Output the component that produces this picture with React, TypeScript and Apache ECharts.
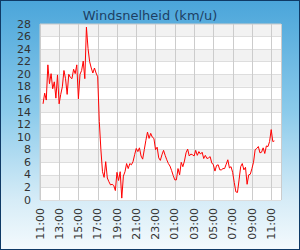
import React, { useEffect, useRef } from "react";
import * as echarts from "echarts";

const TITLE = "Windsnelheid (km/u)";
const START_HOUR = 11; // x axis origin (11:00)
const FIRST_SAMPLE_MIN = 19; // first measurement at 11:19
const STEP_MIN = 10; // one measurement every 10 minutes
const X_MAX_MIN = 1500; // axis runs to 12:00 next day
const X_TICK_MIN = 120; // label every 2 hours
const Y_MAX = 28;
const Y_STEP = 2;

// wind speed (km/u), one value per 10 minutes
const windSpeed: number[] = [
  15.3, 17.0, 15.9, 21.5, 18.5, 20.1, 17.7, 18.8, 16.2, 19.9,
  15.3, 16.8, 18.0, 20.6, 19.3, 16.8, 20.0, 19.5, 19.3, 20.8,
  20.1, 21.5, 16.1, 20.0, 20.6, 22.1, 19.3, 27.5, 24.1, 22.0,
  21.0, 20.2, 21.0, 20.2, 19.6, 12.5, 8.0, 4.5, 3.6, 6.1,
  3.5, 2.9, 2.4, 2.5, 2.3, 1.5, 4.4, 3.1, 4.5, 0.3,
  3.8, 4.5, 5.8, 5.0, 5.8, 5.6, 6.1, 7.2, 8.2, 7.7,
  8.3, 7.0, 6.5, 8.0, 9.5, 10.8, 9.8, 10.6, 10.0, 9.8,
  8.0, 8.4, 6.7, 6.3, 7.2, 7.9, 7.1, 6.4, 5.8, 5.4,
  4.7, 3.9, 3.2, 3.2, 5.0, 4.0, 6.0, 5.3, 6.2, 7.5,
  8.1, 7.0, 7.3, 7.2, 7.0, 7.9, 7.1, 7.7, 7.3, 7.6,
  6.6, 7.1, 6.6, 6.7, 6.9, 5.9, 5.6, 4.6, 5.5, 5.6,
  4.8, 4.8, 5.0, 5.0, 5.7, 6.4, 5.1, 5.3, 4.4, 2.8,
  1.3, 1.2, 3.2, 5.3, 5.8, 4.8, 5.2, 2.5, 4.0, 4.1,
  5.0, 6.0, 8.0, 8.2, 8.5, 7.5, 7.6, 8.3, 7.4, 8.6,
  8.5, 9.3, 11.2, 9.3, 9.4,
];

const sampleMinutes: number[] = windSpeed.map((_, i) => FIRST_SAMPLE_MIN + i * STEP_MIN);

const pad = (n: number) => (n < 10 ? "0" + n : String(n));

export default function App() {
  const ref = useRef<HTMLDivElement>(null);

  useEffect(() => {
    if (!ref.current) return;
    const chart = echarts.init(ref.current, undefined, { renderer: "svg" });
    const font = "DejaVu Sans";
    chart.setOption({
      animation: false,
      backgroundColor: "transparent",
      textStyle: { fontFamily: font },
      title: {
        text: TITLE,
        left: "center",
        top: 4,
        textStyle: {
          fontFamily: font,
          fontSize: 13,
          fontWeight: "normal",
          color: "#1d3f64",
        },
      },
      grid: {
        left: 40,
        right: 19,
        top: 24,
        bottom: 50,
        show: true,
        backgroundColor: "#ffffff",
        borderColor: "#cccccc",
        borderWidth: 1,
      },
      xAxis: {
        type: "value",
        min: 0,
        max: X_MAX_MIN,
        interval: X_TICK_MIN,
        axisLine: { show: false },
        axisTick: { show: false },
        splitLine: { show: true, lineStyle: { color: "#cccccc", width: 1 } },
        axisLabel: {
          rotate: 90,
          margin: 8,
          fontSize: 11,
          fontFamily: font,
          color: "#333333",
          showMaxLabel: false,
          formatter: (v: number) =>
            v % X_TICK_MIN === 0 && v < X_MAX_MIN
              ? pad((START_HOUR + v / 60) % 24) + ":00"
              : "",
        },
      },
      yAxis: {
        type: "value",
        min: 0,
        max: Y_MAX,
        interval: Y_STEP,
        axisLine: { show: false },
        axisTick: { show: false },
        splitLine: { show: true, lineStyle: { color: "#dddddd", width: 1 } },
        splitArea: { show: true, areaStyle: { color: ["#ffffff", "#f2f2f2"] } },
        axisLabel: {
          margin: 9,
          fontSize: 11,
          fontFamily: font,
          color: "#333333",
        },
      },
      series: [
        {
          type: "line",
          data: sampleMinutes.map((m, i) => [m, windSpeed[i]]),
          showSymbol: false,
          symbol: "none",
          lineStyle: { color: "#ff0000", width: 1 },
          z: 3,
        },
      ],
    });
    return () => chart.dispose();
  }, []);

  return (
    <div
      style={{
        position: "fixed",
        left: 0,
        top: 0,
        width: 300,
        height: 250,
        boxSizing: "border-box",
        background: "linear-gradient(to bottom, #4aa5da 0%, #8ccbeb 45%, #d6ecf7 80%, #f4fafd 100%)",
        boxShadow: "inset 0 0 0 1px #0f3a66",
      }}
    >
      <div ref={ref} style={{ width: 300, height: 250 }} />
    </div>
  );
}
